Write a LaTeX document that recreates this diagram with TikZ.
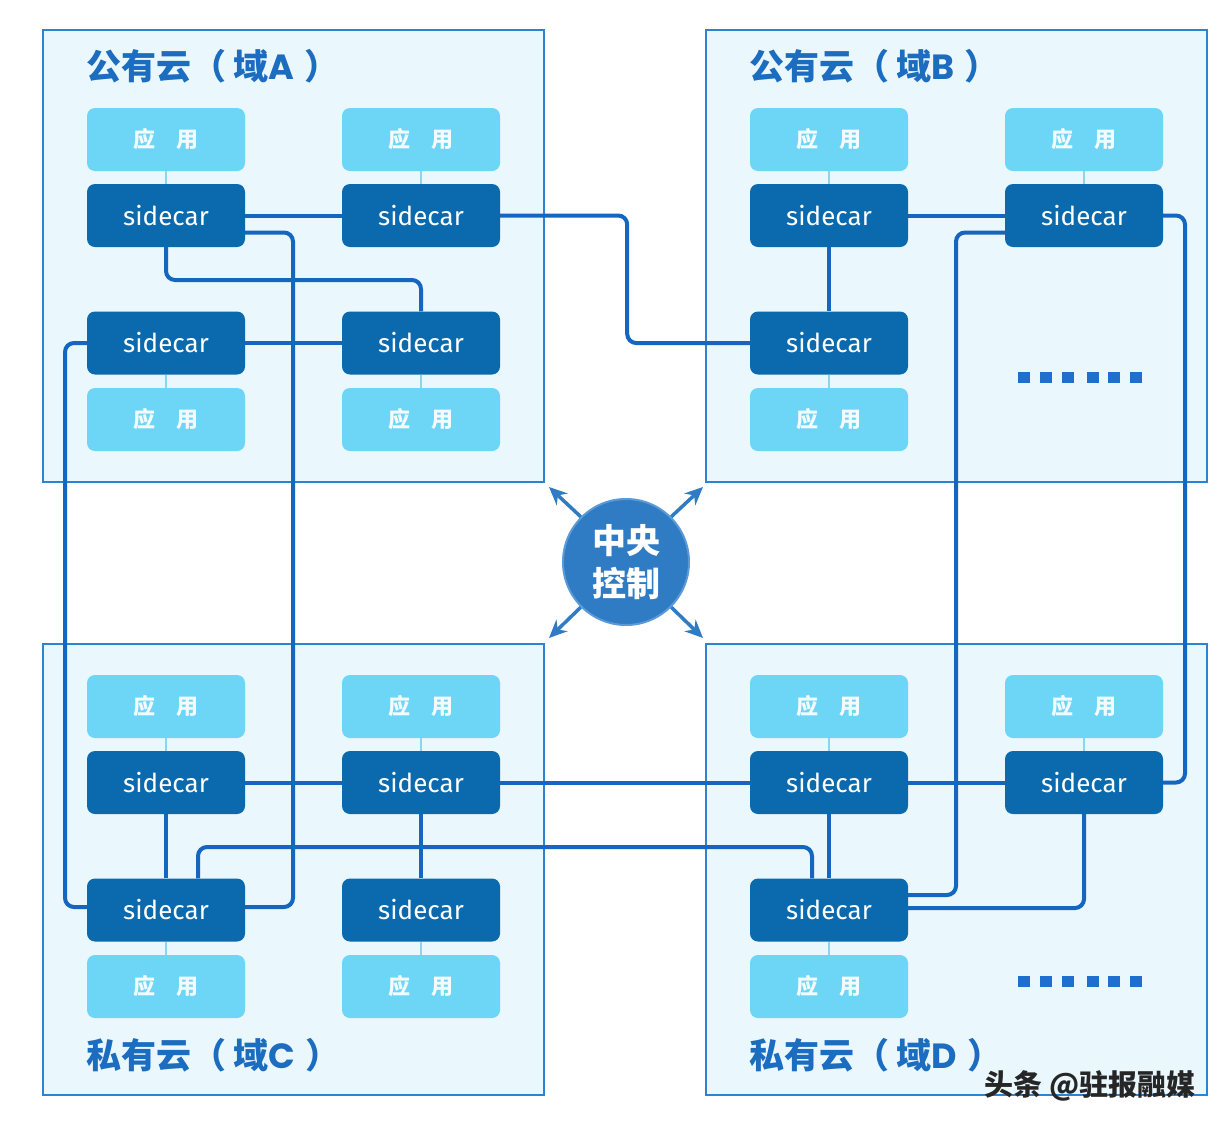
\documentclass[tikz,border=0pt]{standalone}
\usepackage{fontspec}
\newfontfamily\cjk{Noto Sans CJK SC}
\newfontfamily\scfont{Fira Sans}
\newfontfamily\latfont{Poppins}
\newcommand{\dl}[1]{{\latfont\bfseries #1}}
\usetikzlibrary{arrows.meta}
\definecolor{domfill}{HTML}{EAF7FD}
\definecolor{domline}{HTML}{2D83CF}
\definecolor{appfill}{HTML}{6DD5F5}
\definecolor{apptext}{HTML}{F2FBFF}
\definecolor{scfill}{HTML}{0B69AE}
\definecolor{linkc}{HTML}{1466C1}
\definecolor{stemc}{HTML}{8BD5EF}
\definecolor{ctrfill}{HTML}{2F7BC4}
\definecolor{ctrline}{HTML}{5A9AD8}
\definecolor{titlec}{HTML}{1C6DC0}
\definecolor{dotc}{HTML}{1E6FD0}
\begin{document}
\begin{tikzpicture}[x=1pt,y=-1pt,
  dom/.style={fill=domfill,draw=domline,line width=2pt},
  app/.style={rounded corners=8pt,fill=appfill,minimum width=158pt,minimum height=63pt,inner sep=0pt,text=apptext,font=\cjk\bfseries\fontsize{22}{22}\selectfont},
  sc/.style={rounded corners=8pt,fill=scfill,minimum width=158pt,minimum height=63pt,inner sep=0pt,text=white,font=\scfont\fontsize{26}{26}\selectfont},
  stem/.style={draw=stemc,line width=2pt},
  link/.style={draw=linkc,line width=4pt,rounded corners=9pt},
  title/.style={anchor=west,text=titlec,font=\cjk\bfseries\fontsize{35}{35}\selectfont,inner sep=0pt},
  arr/.style={draw=ctrfill,line width=3.5pt,-{Stealth[length=18pt,width=16pt]}},
  dotbox/.style={fill=dotc}
]
\useasboundingbox[fill=white] (0,0) rectangle (1228,1130);

% domains
\draw[dom] (43,30) rectangle (544,482);
\draw[dom] (706,30) rectangle (1207,482);
\draw[dom] (43,644) rectangle (544,1095);
\draw[dom] (706,644) rectangle (1207,1095);

% titles
\node[title] (ta) at (86,66) {公有云（\hspace{0.2em}域\dl{A}\hspace{0.3em}）};
\node[title] (tb) at (749,66) {公有云（\hspace{0.2em}域\dl{B}\hspace{0.3em}）};
\node[title] (tc) at (86,1055) {私有云（\hspace{0.2em}域\dl{C}\hspace{0.3em}）};
\node[title] (td) at (749,1055) {私有云（\hspace{0.2em}域\dl{D}\hspace{0.3em}）};

% nodes: domain A
\node[app] (a11app) at (166,139.5) {应\hspace{0.95em}用};
\node[app] (a12app) at (421,139.5) {应\hspace{0.95em}用};
\node[sc]  (a11) at (166,215.5) {sidecar};
\node[sc]  (a12) at (421,215.5) {sidecar};
\node[sc]  (a21) at (166,343) {sidecar};
\node[sc]  (a22) at (421,343) {sidecar};
\node[app] (a21app) at (166,419.5) {应\hspace{0.95em}用};
\node[app] (a22app) at (421,419.5) {应\hspace{0.95em}用};
% domain B
\node[app] (b11app) at (829,139.5) {应\hspace{0.95em}用};
\node[app] (b12app) at (1084,139.5) {应\hspace{0.95em}用};
\node[sc]  (b11) at (829,215.5) {sidecar};
\node[sc]  (b12) at (1084,215.5) {sidecar};
\node[sc]  (b21) at (829,343) {sidecar};
\node[app] (b21app) at (829,419.5) {应\hspace{0.95em}用};
% domain C
\node[app] (c11app) at (166,706.5) {应\hspace{0.95em}用};
\node[app] (c12app) at (421,706.5) {应\hspace{0.95em}用};
\node[sc]  (c11) at (166,782.5) {sidecar};
\node[sc]  (c12) at (421,782.5) {sidecar};
\node[sc]  (c21) at (166,910) {sidecar};
\node[sc]  (c22) at (421,910) {sidecar};
\node[app] (c21app) at (166,986.5) {应\hspace{0.95em}用};
\node[app] (c22app) at (421,986.5) {应\hspace{0.95em}用};
% domain D
\node[app] (d11app) at (829,706.5) {应\hspace{0.95em}用};
\node[app] (d12app) at (1084,706.5) {应\hspace{0.95em}用};
\node[sc]  (d11) at (829,782.5) {sidecar};
\node[sc]  (d12) at (1084,782.5) {sidecar};
\node[sc]  (d21) at (829,910) {sidecar};
\node[app] (d21app) at (829,986.5) {应\hspace{0.95em}用};

% stems
\draw[stem] (a11app) -- (a11);
\draw[stem] (a12app) -- (a12);
\draw[stem] (a21) -- (a21app);
\draw[stem] (a22) -- (a22app);
\draw[stem] (b11app) -- (b11);
\draw[stem] (b12app) -- (b12);
\draw[stem] (b21) -- (b21app);
\draw[stem] (c11app) -- (c11);
\draw[stem] (c12app) -- (c12);
\draw[stem] (c21) -- (c21app);
\draw[stem] (c22) -- (c22app);
\draw[stem] (d11app) -- (d11);
\draw[stem] (d12app) -- (d12);
\draw[stem] (d21) -- (d21app);

% links
\draw[link] (a11.east) -- (a12.west);
\draw[link] (a12.east) -- ++(127,0) |- (b21.west);
\draw[link] ([yshift=-17pt]a11.east) -| (293,600) |- ([yshift=3pt]c21.east);
\draw[link] (a11.south) |- (421,280) -- (a22.north);
\draw[link] (a21.east) -- (a22.west);
\draw[link] (a21.west) -| (65,600) |- ([yshift=3pt]c21.west);
\draw[link] (b11.east) -- (b12.west);
\draw[link] (b11.south) -- (b21.north);
\draw[link] ([yshift=-17pt]b12.west) -| (956,600) |- ([yshift=15pt]d21.east);
\draw[link] (b12.east) -| (1185,500) |- (d12.east);
\draw[link] (c11.east) -- (c12.west);
\draw[link] (c12.east) -- (d11.west);
\draw[link] (d11.east) -- (d12.west);
\draw[link] (c11.south) -- (c21.north);
\draw[link] (c12.south) -- (c22.north);
\draw[link] ([xshift=32pt]c21.north) -- (198,847) -| ([xshift=-17pt]d21.north);
\draw[link] (d11.south) -- (d21.north);
\draw[link] (d12.south) |- ([yshift=2pt]d21.east);

% dots
\foreach \x in {1018,1040,1062,1087,1108,1130}{
  \fill[dotbox] (\x,372) rectangle ++(12,11);
  \fill[dotbox] (\x,976) rectangle ++(12,11);
}

% centre
\node[circle,fill=ctrfill,draw=ctrline,line width=2pt,minimum size=126pt,inner sep=0pt,text=white,align=center,font=\cjk\bfseries\fontsize{34}{43}\selectfont] (ctr) at (626,562) {中央\\控制};
\coordinate (tl) at (549,487);
\coordinate (tr) at (703,487);
\coordinate (bl) at (549,638);
\coordinate (br) at (703,638);
\draw[arr] (ctr.135) -- (tl);
\draw[arr] (ctr.45) -- (tr);
\draw[arr] (ctr.225) -- (bl);
\draw[arr] (ctr.315) -- (br);

% watermark
\node[text=black!85,font=\cjk\bfseries\fontsize{29}{29}\selectfont,inner sep=0pt] (wm) at (1090,1086) {头条 @驻报融媒};
\end{tikzpicture}
\end{document}
